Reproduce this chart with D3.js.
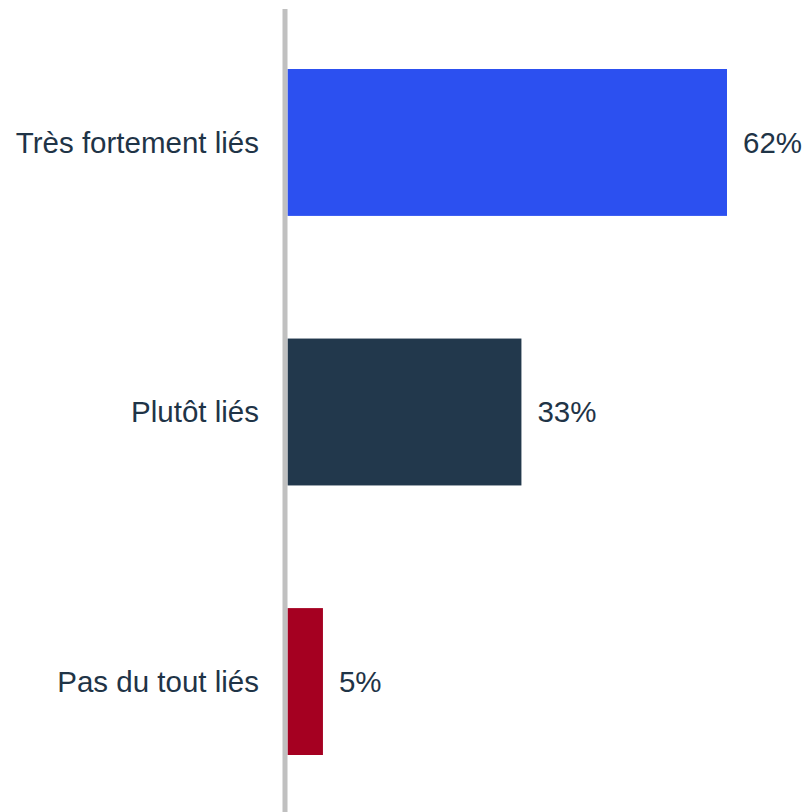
<!DOCTYPE html>
<html><head><meta charset="utf-8">
<script src="https://cdn.jsdelivr.net/npm/d3@7"></script>
<style>body{margin:0;background:#fff;}svg{display:block;}</style>
</head><body>
<svg id="chart" width="810" height="812"></svg>
<script>
const categories = ["Très fortement liés", "Plutôt liés", "Pas du tout liés"];
const values = [62, 33, 5];
const colors = ["#2c50f0", "#22384c", "#a50021"];

const svg = d3.select("#chart");
const x0 = 287.5;
const x = d3.scaleLinear().domain([0, 62]).range([x0, 727]);
const y = d3.scaleBand().domain(categories).range([69, 755]).paddingInner(0.455).paddingOuter(0);

svg.selectAll("rect.bar").data(values).join("rect")
  .attr("class", "bar")
  .attr("x", x(0))
  .attr("y", (d, i) => y(categories[i]))
  .attr("width", d => x(d) - x(0))
  .attr("height", y.bandwidth())
  .attr("fill", (d, i) => colors[i]);

svg.append("line")
  .attr("x1", 285).attr("x2", 285)
  .attr("y1", 9).attr("y2", 812)
  .attr("stroke", "#c0c0c0").attr("stroke-width", 5);

const font = "Liberation Sans, Arial, sans-serif";
svg.selectAll("text.cat").data(categories).join("text")
  .attr("class", "cat")
  .attr("x", 259)
  .attr("y", d => y(d) + y.bandwidth() / 2)
  .attr("dy", "0.35em")
  .attr("text-anchor", "end")
  .attr("font-family", font).attr("font-size", 29.5)
  .attr("fill", "#1f3447")
  .text(d => d);

svg.selectAll("text.val").data(values).join("text")
  .attr("class", "val")
  .attr("x", d => x(d) + 16)
  .attr("y", (d, i) => y(categories[i]) + y.bandwidth() / 2)
  .attr("dy", "0.35em")
  .attr("font-family", font).attr("font-size", 29.5)
  .attr("fill", "#1f3447")
  .text(d => d + "%");
</script>
</body></html>
